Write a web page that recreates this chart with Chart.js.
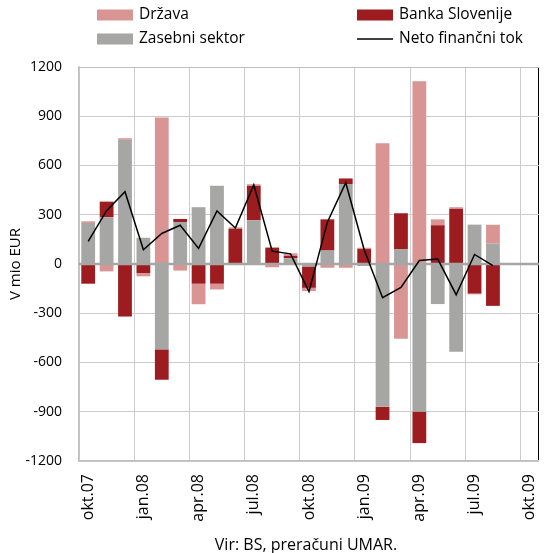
<!DOCTYPE html>
<html>
<head>
<meta charset="utf-8">
<script src="https://cdn.jsdelivr.net/npm/chart.js@4.4.1/dist/chart.umd.min.js"></script>
<style>
  html, body { margin: 0; padding: 0; background: #fff; overflow: hidden; }
  #wrap { position: absolute; left: 0; top: 0; width: 562px; height: 553px; }
</style>
</head>
<body>
<div id="wrap"><canvas id="flowChart" width="562" height="553"></canvas></div>
<script>
// months okt.07 - okt.09
const months = ['okt.07', 'nov.07', 'dec.07', 'jan.08', 'feb.08', 'mar.08', 'apr.08', 'maj.08', 'jun.08',
    'jul.08', 'avg.08', 'sep.08', 'okt.08', 'nov.08', 'dec.08', 'jan.09', 'feb.09', 'mar.09', 'apr.09',
    'maj.09', 'jun.09', 'jul.09', 'avg.09', 'sep.09', 'okt.09'];

// mio EUR
const drzava = [10, -45, 10, -20, 893, -40, -125, -35, 8, 10, -20, 15, -20, -23, -23, 8, 735, -455, 1113,
    36, 10, -5, 115, null, null];
const bankaSlovenije = [-120, 95, -320, -55, -185, 18, -120, -120, 215, 210, 100, 15, -130, 190, 34, 91, -80,
    220, -192, 236, 336, -180, -255, null, null];
const zasebniSektor = [250, 285, 756, 160, -520, 256, 346, 476, 0, 266, 0, 35, -15, 82, 487, -12, -870, 89,
    -899, -244, -534, 240, 124, null, null];
const netoTok = [138, 325, 440, 87, 186, 236, 95, 323, 219, 482, 78, 62, -168, 255, 495, 87, -205, -143, 21,
    30, -187, 58, -10, null, null];

const yTicks = [-1200, -900, -600, -300, 0, 300, 600, 900, 1200];

const PINK = '#d99594';
const RED = '#9d1c20';
const GRAY = '#a6a6a4';
const GRID = '#cccccc';
const FRAME = '#bfbfbf';
const FONT = '"Open Sans", "Noto Sans", sans-serif';

// vertical grid only every 3rd month (one extra for the offset end line)
const xGridColors = months.concat(['']).map((m, i) => (i % 3 === 0 ? GRID : 'transparent'));
const yGridColors = yTicks.map(v => (v === 0 ? 'transparent' : v === 1200 ? FRAME : GRID));

const extras = {
    id: 'extras',
    afterDatasetDraw(chart, args) {
        // zero axis line over the bars, under the net line
        if (args.index !== 0) return;
        const { ctx, chartArea } = chart;
        const y0 = chart.scales.y.getPixelForValue(0);
        ctx.save();
        ctx.strokeStyle = '#a6a6a6';
        ctx.lineWidth = 2.5;
        ctx.beginPath();
        ctx.moveTo(chartArea.left, y0);
        ctx.lineTo(chartArea.right, y0);
        ctx.stroke();
        ctx.restore();
    },
    afterDraw(chart) {
        const ctx = chart.ctx;
        const items = [
            { text: 'Država', color: PINK, x: 97, y: 15, line: false },
            { text: 'Banka Slovenije', color: RED, x: 357, y: 15, line: false },
            { text: 'Zasebni sektor', color: GRAY, x: 97, y: 39, line: false },
            { text: 'Neto finančni tok', color: '#000', x: 357, y: 39, line: true }
        ];
        ctx.save();
        ctx.font = '15.5px ' + FONT;
        ctx.textBaseline = 'middle';
        items.forEach(it => {
            if (it.line) {
                ctx.strokeStyle = it.color;
                ctx.lineWidth = 1.5;
                ctx.beginPath();
                ctx.moveTo(it.x, it.y);
                ctx.lineTo(it.x + 36, it.y);
                ctx.stroke();
            } else {
                ctx.fillStyle = it.color;
                ctx.fillRect(it.x, it.y - 5.5, 36, 11);
            }
            ctx.fillStyle = '#000';
            ctx.fillText(it.text, it.x + 42, it.y);
        });
        ctx.font = '16px ' + FONT;
        ctx.textAlign = 'center';
        ctx.fillText('Vir: BS, preračuni UMAR.', 306, 545);
        ctx.restore();
    }
};

new Chart(document.getElementById('flowChart'), {
    type: 'bar',
    data: {
        labels: months,
        datasets: [
            { label: 'Zasebni sektor', data: zasebniSektor, backgroundColor: GRAY },
            { label: 'Banka Slovenije', data: bankaSlovenije, backgroundColor: RED },
            { label: 'Država', data: drzava, backgroundColor: PINK },
            {
                type: 'line', label: 'Neto finančni tok', data: netoTok, stack: 'net', order: -1,
                borderColor: '#000', borderWidth: 1.5, pointRadius: 0, tension: 0, fill: false
            }
        ]
    },
    options: {
        responsive: false,
        animation: false,
        categoryPercentage: 0.75,
        barPercentage: 1,
        layout: { padding: { top: 67, right: 3, left: 0, bottom: 0 } },
        plugins: {
            legend: { display: false },
            tooltip: { enabled: false }
        },
        scales: {
            x: {
                stacked: true,
                afterFit(scale) { scale.height = 92; },
                grid: {
                    offset: true,
                    drawTicks: false,
                    color: xGridColors,
                    lineWidth: 1
                },
                border: { display: true, color: FRAME, width: 1.5 },
                ticks: {
                    autoSkip: false,
                    maxRotation: 90,
                    minRotation: 90,
                    padding: 13,
                    color: '#000',
                    font: { family: FONT, size: 16 },
                    callback(value, index) {
                        return index % 3 === 0 ? this.getLabelForValue(value) : '';
                    }
                }
            },
            y: {
                stacked: true,
                min: -1200,
                max: 1200,
                afterFit(scale) { scale.width = 79; },
                afterBuildTicks(scale) { scale.ticks = yTicks.map(v => ({ value: v })); },
                grid: {
                    drawTicks: false,
                    color: yGridColors,
                    lineWidth: 1
                },
                border: { display: true, color: FRAME, width: 1.5 },
                ticks: {
                    padding: 17,
                    color: '#000',
                    font: { family: FONT, size: 14 },
                    callback: (value) => String(value)
                },
                title: {
                    display: true,
                    text: 'V mio EUR',
                    color: '#000',
                    font: { family: FONT, size: 15 },
                    padding: { top: 7, bottom: 0 }
                }
            }
        }
    },
    plugins: [extras]
});
</script>
</body>
</html>
